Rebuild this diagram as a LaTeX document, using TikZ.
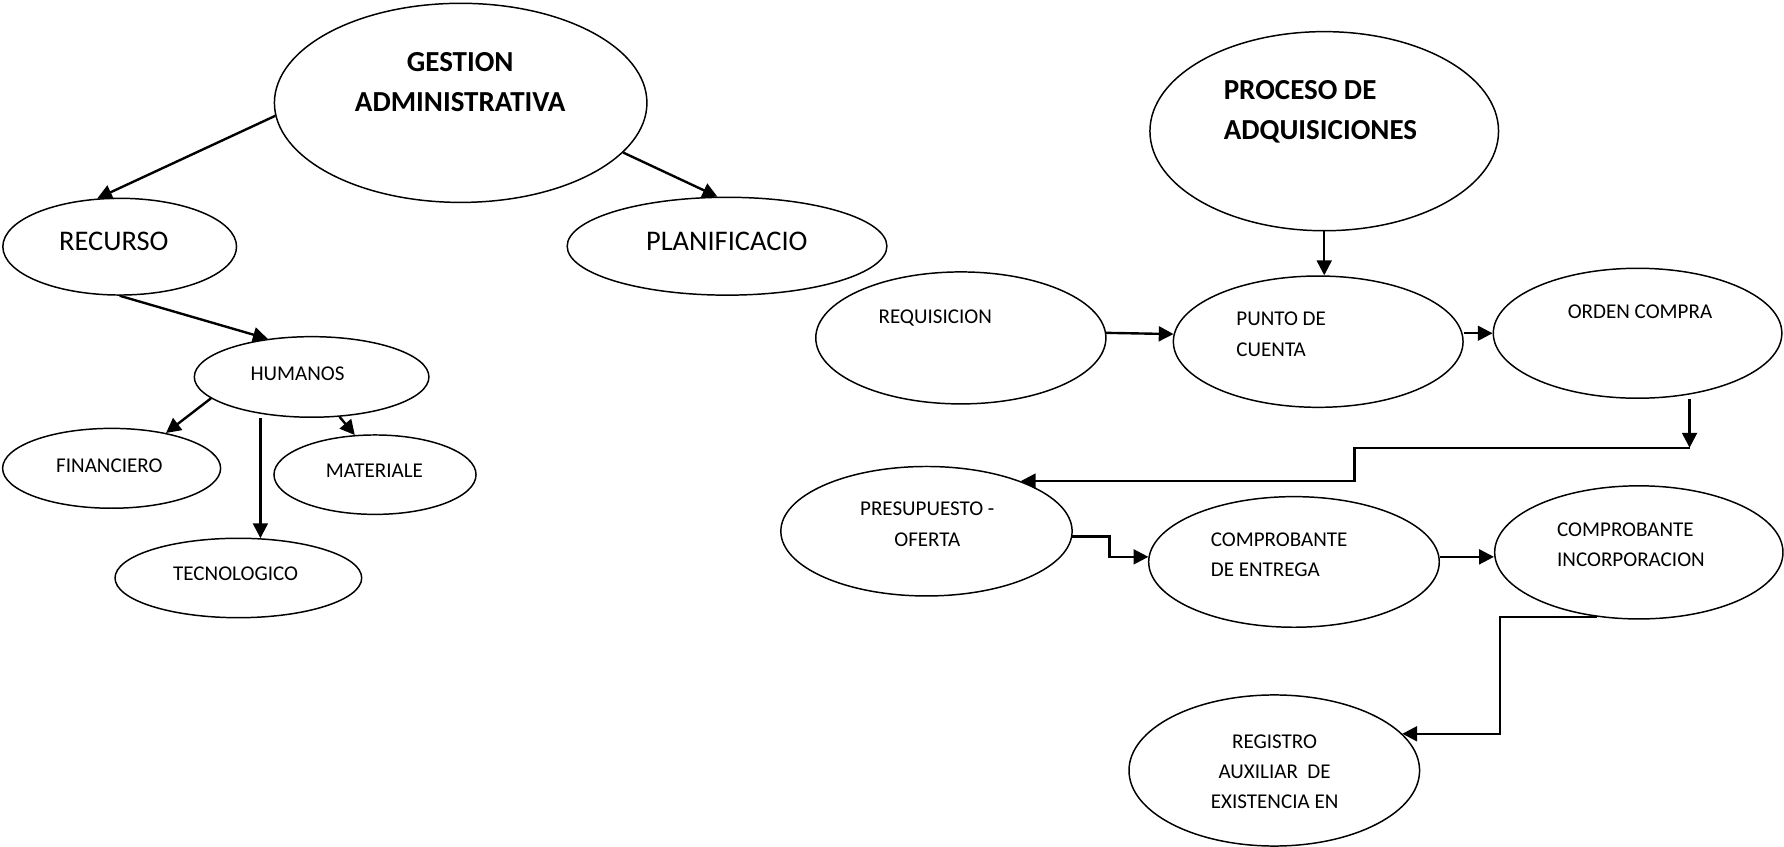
\documentclass[tikz,border=0pt]{standalone}
\usepackage{fontspec}
\setmainfont{Carlito}
\usetikzlibrary{shapes.geometric,arrows.meta}

\begin{document}
\begin{tikzpicture}[x=1pt,y=-1pt,
  oval/.style={ellipse,draw,line width=1.3pt,inner sep=0pt},
  arr/.style={line width=2.1pt,-{Triangle[length=13pt,width=13pt]}},
  txt/.style={inner sep=0pt},
  big/.style={txt,font=\fontsize{25.5}{35.6}\selectfont\bfseries},
  mid/.style={txt,font=\fontsize{25}{30}\selectfont},
  small/.style={txt,font=\fontsize{18.5}{26.4}\selectfont},
]
\useasboundingbox (0,0) rectangle (1568,744);

% ---- outlines ----
\node[oval,minimum width=327.4pt,minimum height=175pt] (gestion) at (404.9,90.4) {};
\node[oval,minimum width=205.4pt,minimum height=85pt] (recurso) at (105.2,216.8) {};
\node[oval,minimum width=281pt,minimum height=86pt] (planif) at (639,216.4) {};
\node[oval,minimum width=206.2pt,minimum height=70.8pt] (humanos) at (273.9,331.3) {};
\node[oval,minimum width=191.6pt,minimum height=70.2pt] (financiero) at (98.1,411.6) {};
\node[oval,minimum width=177.6pt,minimum height=69.8pt] (materiale) at (329.6,417.2) {};
\node[oval,minimum width=216.8pt,minimum height=69.8pt] (tecno) at (209.5,508) {};
\node[oval,minimum width=306.4pt,minimum height=175pt] (proceso) at (1163.9,115.3) {};
\node[oval,minimum width=255pt,minimum height=116pt] (requisicion) at (844.5,297) {};
\node[oval,minimum width=254.6pt,minimum height=115.4pt] (punto) at (1158.6,300.3) {};
\node[oval,minimum width=253.6pt,minimum height=114.2pt] (orden) at (1439.3,292.9) {};
\node[oval,minimum width=256pt,minimum height=113.8pt] (presupuesto) at (814.3,466.9) {};
\node[oval,minimum width=255.4pt,minimum height=114.8pt] (entrega) at (1137.3,493.9) {};
\node[oval,minimum width=253.4pt,minimum height=117pt] (incorp) at (1440.4,485.5) {};
\node[oval,minimum width=255.4pt,minimum height=132.8pt] (registro) at (1120,677.2) {};

% ---- labels (multi-line ones are placed by the baseline of their last line) ----
\node[big,align=center,anchor=base] (gestion-t) at (404.5,98.2) {GESTION\\ADMINISTRATIVA};
\node[mid,anchor=base] (recurso-t) at (100,220.3) {RECURSO};
\node[mid,anchor=base] (planif-t) at (638.8,220.3) {PLANIFICACIO};
\node[small,anchor=base] (humanos-t) at (261.5,334.6) {HUMANOS};
\node[small,anchor=base] (financiero-t) at (96.1,415.4) {FINANCIERO};
\node[small,anchor=base] (materiale-t) at (329.1,419.5) {MATERIALE};
\node[small,anchor=base] (tecno-t) at (207.1,510.6) {TECNOLOGICO};
\node[big,align=left,anchor=base west] (proceso-t) at (1075.4,123) {PROCESO DE\\ADQUISICIONES};
\node[small,anchor=base west] (requisicion-t) at (772,284.2) {REQUISICION};
\node[small,align=left,anchor=base west] (punto-t) at (1086.5,312.9) {PUNTO DE\\CUENTA};
\node[small,anchor=base] (orden-t) at (1441.4,279.8) {ORDEN COMPRA};
\node[small,align=center,anchor=base] (presupuesto-t) at (815,479.9) {PRESUPUESTO -\\OFERTA};
\node[small,align=left,anchor=base west] (entrega-t) at (1064,506.8) {COMPROBANTE\\DE ENTREGA};
\node[small,align=left,anchor=base west] (incorp-t) at (1368.4,498) {COMPROBANTE\\INCORPORACION};
\node[small,align=center,anchor=base] (registro-t) at (1120.3,710.5) {REGISTRO\\AUXILIAR\ \ DE\\EXISTENCIA EN};

% ---- left tree ----
\draw[arr] (gestion.184) -- (recurso.115);
\draw[arr] (gestion.343) -- (planif.101);
\draw[arr] (recurso.south) -- (humanos.139);
\draw[arr] (humanos.192) -- (financiero.33);
\draw[arr] (humanos.south -| tecno.61) -- (tecno.61);
\draw[arr] (humanos.305) -- (materiale.117);

% ---- acquisition flow ----
\coordinate (k1) at (1485,393.5);
\coordinate (k2) at (1190.4,393.5);
\coordinate (k3) at (975,480);
\coordinate (k4) at (1318.4,600);
\draw[arr] (proceso.south) -- (proceso.south |- punto.north);
\draw[arr] (requisicion.2) -- (punto.177);
\draw[arr] (orden.west -| punto.east) -- (orden.west);
\draw[arr] (k1 |- orden.south) -- (k1);
\draw[arr] (k1) -- (k2) |- (presupuesto.28);
\draw[arr] (presupuesto.358) -| (k3) |- (entrega.178);
\draw[arr] (entrega.2) -- (entrega.2 -| incorp.west);
\draw[arr] (incorp.237) -| (k4) |- (registro.16);
\end{tikzpicture}
\end{document}
